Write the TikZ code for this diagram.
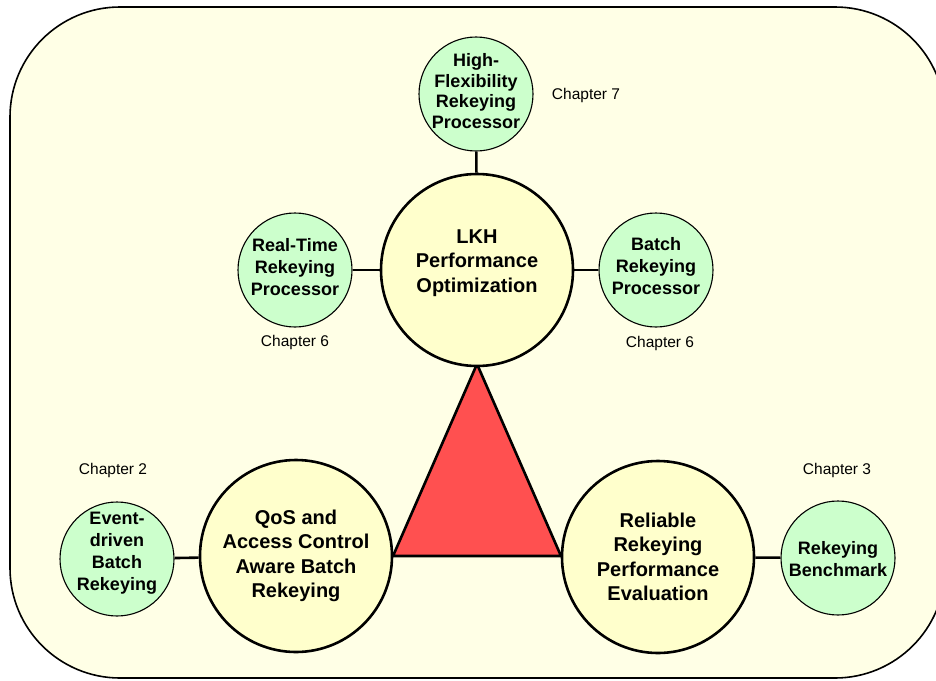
\documentclass[tikz,border=0pt]{standalone}
\usepackage{fontspec}
\setmainfont{Liberation Sans}
\definecolor{panelfill}{HTML}{FFFFE6}
\definecolor{bigfill}{HTML}{FFFFCC}
\definecolor{smallfill}{HTML}{CCFFCC}
\definecolor{trifill}{HTML}{FF5050}
\begin{document}
\begin{tikzpicture}[x=1pt,y=-1pt,
  bigcircle/.style={circle,draw=black,line width=2.6pt,fill=bigfill,minimum size=192pt,inner sep=0pt},
  smallcircle/.style={circle,draw=black,line width=1.1pt,fill=smallfill,minimum size=114pt,inner sep=0pt},
  bigtext/.style={align=center,inner sep=0pt,font=\fontsize{20}{24.5}\selectfont\bfseries},
  smalltext/.style={align=center,inner sep=0pt,font=\fontsize{18}{22}\selectfont\bfseries},
  chapter/.style={font=\fontsize{15.5}{18}\selectfont,inner sep=0pt},
  link/.style={line width=2.6pt}]
\useasboundingbox (0,0) rectangle (936,680);

% rounded panel behind everything
\draw[line width=1.6pt,fill=panelfill,rounded corners=110pt] (10,7) rectangle (945,678);

% central triangle
\coordinate (ta) at (477,364);
\coordinate (tl) at (393,556);
\coordinate (tr) at (561,556);
\draw[line width=2.6pt,fill=trifill,line join=miter] (ta) -- (tl) -- (tr) -- cycle;

% circles, each with its title set slightly above the centre
\node[bigcircle,label={[bigtext,yshift=7pt]center:LKH\\Performance\\Optimization}] (lkh) at (477,270) {};
\node[smallcircle,label={[smalltext,font=\fontsize{18}{20.7}\selectfont\bfseries,yshift=3pt]center:High-\\Flexibility\\Rekeying\\Processor}] (hf) at (476,94) {};
\node[smallcircle,label={[smalltext,yshift=3pt]center:Real-Time\\Rekeying\\Processor}] (rt) at (295,270) {};
\node[smallcircle,label={[smalltext,yshift=4pt]center:Batch\\Rekeying\\Processor}] (br) at (656,270) {};
\node[bigcircle,label={[bigtext]center:QoS and\\Access Control\\Aware Batch\\Rekeying}] (qos) at (296,556) {};
\node[smallcircle,label={[smalltext,yshift=6pt]center:Event-\\driven\\Batch\\Rekeying}] (ev) at (117,559) {};
\node[bigcircle,label={[bigtext]center:Reliable\\Rekeying\\Performance\\Evaluation}] (rel) at (658,557) {};
\node[smallcircle,label={[smalltext,yshift=-1pt]center:Rekeying\\Benchmark}] (bench) at (838,558) {};

% connectors
\draw[link] (hf) -- (lkh);
\draw[link] (rt) -- (lkh);
\draw[link] (br) -- (lkh);
\draw[link] (ev) -- (qos);
\draw[link] (rel) -- (bench);

% chapter labels
\node[chapter] (c7) at (586,95) {Chapter 7};
\node[chapter] (c6a) at (295,342) {Chapter 6};
\node[chapter] (c6b) at (660,343) {Chapter 6};
\node[chapter] (c2) at (113,470) {Chapter 2};
\node[chapter] (c3) at (837,470) {Chapter 3};
\end{tikzpicture}
\end{document}
